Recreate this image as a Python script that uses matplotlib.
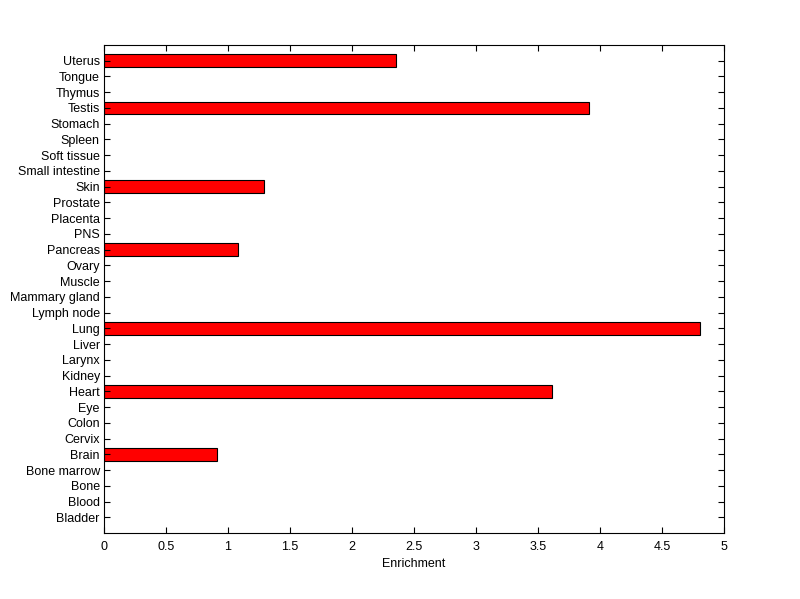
import numpy as np
import matplotlib
matplotlib.use("Agg")
import matplotlib.pyplot as plt

plt.rcParams['font.family'] = ['Liberation Sans', 'DejaVu Sans']

tissues = ["Bladder", "Blood", "Bone", "Bone marrow", "Brain", "Cervix", "Colon",
           "Eye", "Heart", "Kidney", "Larynx", "Liver", "Lung", "Lymph node",
           "Mammary gland", "Muscle", "Ovary", "Pancreas", "PNS", "Placenta",
           "Prostate", "Skin", "Small intestine", "Soft tissue", "Spleen",
           "Stomach", "Testis", "Thymus", "Tongue", "Uterus"]
enrichment = [0, 0, 0, 0, 0.91, 0, 0,
              0, 3.61, 0, 0, 0, 4.81, 0,
              0, 0, 0, 1.08, 0, 0,
              0, 1.29, 0, 0, 0,
              0, 3.91, 0, 0, 2.355]
xticks = [0, 0.5, 1, 1.5, 2, 2.5, 3, 3.5, 4, 4.5, 5]

fig = plt.figure(figsize=(8, 5.99), dpi=100)
ax = fig.add_axes([0.13, 0.11, 0.775, 0.815])

pos = np.arange(1, len(tissues) + 1)
vals = np.array(enrichment)
nz = vals > 0
ax.barh(pos[nz], vals[nz], height=0.8, color='#ff0000', edgecolor='black', linewidth=0.8)

ax.set_xlim(0, 5)
ax.set_ylim(0, len(tissues) + 1)
ax.set_xticks(xticks)
ax.set_xticklabels([f"{t:g}" for t in xticks])
ax.set_yticks(pos)
ax.set_yticklabels(tissues)
ax.set_xlabel("Enrichment", fontsize=9, labelpad=3)

ax.tick_params(direction='in', top=True, right=True, labelsize=9, length=4, width=0.8)
ax.tick_params(axis='x', pad=6)
ax.tick_params(axis='y', pad=3)
for s in ax.spines.values():
    s.set_linewidth(0.8)

fig.savefig("out.png", dpi=100)
